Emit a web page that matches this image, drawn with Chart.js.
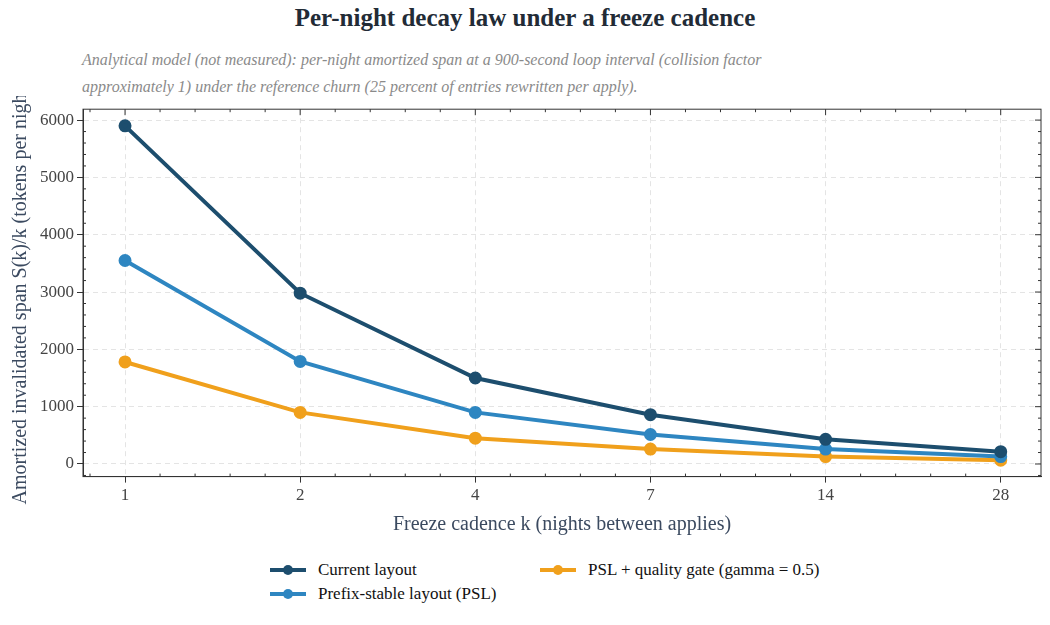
<!DOCTYPE html>
<html><head><meta charset="utf-8">
<script src="https://cdn.jsdelivr.net/npm/chart.js@4"></script>
<style>
body{margin:0;background:#fff;font-family:'Liberation Serif','DejaVu Serif',serif}
#t{position:absolute;top:4px;left:0;width:1050px;text-align:center;font-size:25px;font-weight:bold;color:#222b36}
#s{position:absolute;top:46px;left:82px;font-size:16px;font-style:italic;color:#8a8a8a;line-height:27px}
#w{position:absolute;top:96px;left:0;width:1050px;height:445px}
#l{position:absolute;top:560px;left:270px;font-size:17px;color:#111;display:grid;grid-template-columns:270px 330px;row-gap:4px}
.i{display:flex;align-items:center}
.sw{position:relative;width:36px;height:4px;margin-right:12px}
.sw b{position:absolute;left:13px;top:-3px;width:10px;height:10px;border-radius:50%}
</style>
</head><body>
<div id="t">Per-night decay law under a freeze cadence</div>
<div id="s">Analytical model (not measured): per-night amortized span at a 900-second loop interval (collision factor<br>approximately 1) under the reference churn (25 percent of entries rewritten per apply).</div>
<div id="w"><canvas id="c"></canvas></div>
<div id="l"></div>
<script>
const categories = ["1","2","4","7","14","28"];
const currentLayout = [5900, 2980, 1500, 860, 430, 215];
const pslLayout = [3550, 1790, 900, 515, 260, 130];
const gateLayout = [1780, 900, 450, 260, 130, 65];
const yTicks = [0,1000,2000,3000,4000,5000,6000];
const F = "'Liberation Serif', 'DejaVu Serif', serif";
const pts = a => a.map((v,i)=>({x:i,y:v}));
const ds = (label, data, color) => ({label, data: pts(data), borderColor: color, backgroundColor: color, borderWidth: 4, pointRadius: 4.5, pointHoverRadius: 4.5, tension: 0});
const sets = [
  ds('Current layout', currentLayout, '#1d4e6e'),
  ds('Prefix-stable layout (PSL)', pslLayout, '#2e86c1'),
  ds('PSL + quality gate (gamma = 0.5)', gateLayout, '#f0a01c')
];
const order=[0,2,1];
document.getElementById('l').innerHTML = order.map(k=>{const d=sets[k];return `<div class="i"><span class="sw" style="background:${d.borderColor}"><b style="background:${d.borderColor}"></b></span>${d.label}</div>`}).join('');
const frame = { id:'frame', afterDraw(ch){ const {ctx,chartArea:a}=ch; ctx.save(); ctx.strokeStyle='#333'; ctx.lineWidth=1; ctx.strokeRect(a.left,a.top,a.right-a.left,a.bottom-a.top);
  const x=ch.scales.x,y=ch.scales.y;
  for(let v=-200;v<=6100;v+=200){const p=y.getPixelForValue(v); const major=v%1000===0; ctx.beginPath(); ctx.moveTo(a.left,p); ctx.lineTo(a.left+(major?0:3),p); ctx.moveTo(a.right,p); ctx.lineTo(a.right-(major?6:3),p); ctx.stroke();}
  for(let v=-0.2;v<=5.2;v+=0.2){const r=Math.round(v*10)/10; const p=x.getPixelForValue(r); const major=Math.abs(r-Math.round(r))<1e-6; ctx.beginPath(); if(!major){ctx.moveTo(p,a.bottom);ctx.lineTo(p,a.bottom-3);} ctx.moveTo(p,a.top); ctx.lineTo(p,a.top+(major?6:3)); ctx.stroke();}
  ctx.restore(); } };
new Chart(document.getElementById('c'), {
  type: 'line',
  data: { datasets: sets },
  plugins: [frame],
  options: {
    responsive: true, maintainAspectRatio: false, animation: false,
    layout: { padding: { left: 5, right: 9, top: 8, bottom: 0 } },
    plugins: { legend: { display: false }, tooltip: { enabled: false } },
    scales: {
      x: { type: 'linear', min: -0.24, max: 5.23,
        afterBuildTicks: ax => { ax.ticks = categories.map((c,i)=>({value:i})); },
        ticks: { callback: v => categories[v], color: '#444', font: { family: F, size: 17 } },
        grid: { color: '#e4e4e4', tickColor: '#333', tickLength: 6 },
        border: { color: '#333', dash: [5,4] },
        title: { display: true, text: 'Freeze cadence k (nights between applies)', color: '#3b4a60', font: { family: F, size: 20 } } },
      y: { min: -220, max: 6190,
        afterBuildTicks: ax => { ax.ticks = yTicks.map(v=>({value:v})); },
        ticks: { callback: v => String(v), color: '#444', font: { family: F, size: 17 } },
        grid: { color: '#e4e4e4', tickColor: '#333', tickLength: 6 },
        border: { color: '#333', dash: [5,4] },
        title: { display: true, text: 'Amortized invalidated span S(k)/k (tokens per night)', color: '#3b4a60', font: { family: F, size: 20 } } }
    }
  }
});
</script></body></html>
